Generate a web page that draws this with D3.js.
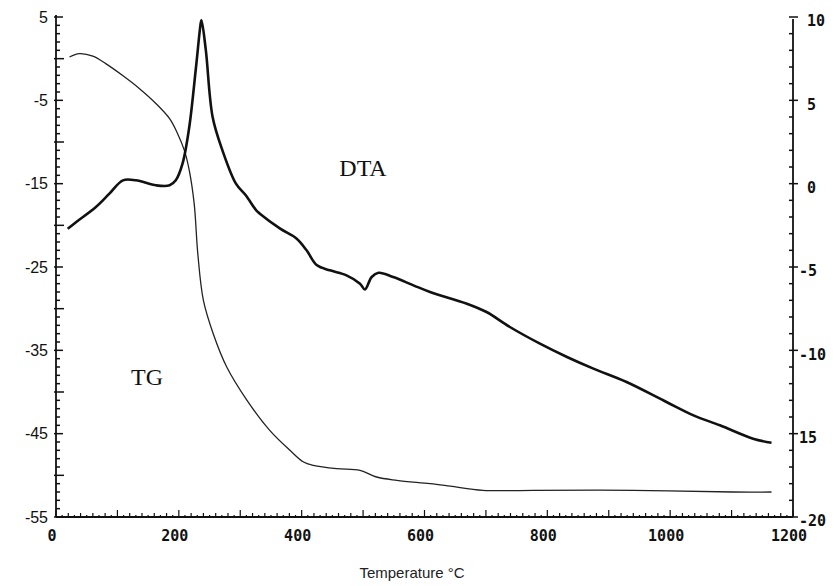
<!DOCTYPE html>
<html>
<head>
<meta charset="utf-8">
<script src="https://cdn.jsdelivr.net/npm/d3@7"></script>
<style>
  body { margin: 0; background: #fff; }
  svg { display: block; }
</style>
</head>
<body>
<div class="thermo-chart"></div>
<script>
// TG curve (left axis), temperature in °C
var tgTemp = [22, 38, 60, 81, 108, 136, 163, 185, 198, 209, 217, 225, 231, 240, 256, 278, 311, 348, 381, 403, 419, 457, 495, 522, 555, 609, 642, 695, 777, 939, 1102, 1165];
var tgValue = [0.2, 0.6, 0.3, -0.6, -2.0, -3.6, -5.4, -7.2, -9.0, -11.0, -13.4, -17.4, -23.5, -29.0, -33.0, -37.0, -41.0, -44.6, -47.0, -48.4, -48.8, -49.2, -49.4, -50.2, -50.6, -51.0, -51.3, -51.8, -51.8, -51.8, -52.0, -52.0];

// DTA curve (right axis)
var dtaTemp = [19, 33, 65, 87, 109, 130, 163, 185, 195, 206, 217, 228, 236, 237, 244, 255, 271, 293, 309, 326, 332, 365, 392, 408, 425, 446, 473, 495, 503, 514, 525, 549, 582, 609, 669, 701, 739, 788, 832, 875, 929, 994, 1038, 1081, 1135, 1165];
var dtaValue = [-2.7, -2.3, -1.4, -0.6, 0.2, 0.2, -0.1, -0.1, 0.2, 1.2, 3.4, 7.0, 9.7, 9.8, 8.0, 4.0, 2.0, 0.0, -0.7, -1.6, -1.8, -2.7, -3.3, -4.0, -4.9, -5.2, -5.5, -6.0, -6.35, -5.6, -5.35, -5.6, -6.1, -6.5, -7.2, -7.7, -8.6, -9.6, -10.4, -11.1, -11.9, -13.1, -13.9, -14.5, -15.3, -15.55];

var xTicks = [0, 200, 400, 600, 800, 1000, 1200];
var leftTicks = [5, -5, -15, -25, -35, -45, -55];
var rightTicks = [10, 5, 0, -5, -10, -15, -20];
var rightTickLabels = ["10", "5", "0", "-5", "-10", "15", "-20"];

var width = 834,
    height = 586,
    plotLeft = 56,
    plotRight = 793,
    plotTop = 17,
    plotBottom = 517;

var svg = d3.select(".thermo-chart").append("svg")
    .attr("width", width)
    .attr("height", height);

var x = d3.scaleLinear().domain([0, 1200]).range([plotLeft, plotRight]);
var yLeft = d3.scaleLinear().domain([-55, 5]).range([plotBottom, plotTop]);
var yRight = d3.scaleLinear().domain([-20, 10]).range([plotBottom, plotTop]);

var plotterFont = "'DejaVu Sans Mono', monospace";

// left axis: ticks every unit pointing inward
var leftAxis = svg.append("g").attr("transform", "translate(" + plotLeft + ",0)");
leftAxis.append("line")
    .attr("y1", plotTop - 2).attr("y2", plotBottom)
    .attr("stroke", "#111").attr("stroke-width", 1.8);
leftAxis.selectAll(".tk")
    .data(d3.range(-55, 6, 1))
    .enter().append("line")
    .attr("class", "tk")
    .attr("x1", function(d) { return (d + 55) % 5 === 0 ? -2 : 0; })
    .attr("x2", function(d) { return (d + 55) % 10 === 5 ? 8 : ((d + 55) % 10 === 0 ? 7 : 4); })
    .attr("y1", function(d) { return yLeft(d); })
    .attr("y2", function(d) { return yLeft(d); })
    .attr("stroke", "#111").attr("stroke-width", 1.5);
leftAxis.selectAll(".lbl")
    .data(leftTicks)
    .enter().append("text")
    .attr("class", "lbl")
    .attr("x", -8)
    .attr("y", function(d) { return yLeft(d); })
    .attr("dy", "0.36em")
    .attr("text-anchor", "end")
    .style("font-family", "'Liberation Sans', Arial, sans-serif")
    .style("font-size", "16px")
    .attr("fill", "#111")
    .text(function(d) { return d; });

// right axis
var rightAxis = svg.append("g").attr("transform", "translate(" + plotRight + ",0)");
rightAxis.append("line")
    .attr("y1", plotTop + 2).attr("y2", plotBottom)
    .attr("stroke", "#111").attr("stroke-width", 1.8);
rightAxis.selectAll(".tk")
    .data(d3.range(-20, 11, 1))
    .enter().append("line")
    .attr("class", "tk")
    .attr("x1", -4)
    .attr("x2", function(d) { return d % 5 === 0 ? 5 : 0; })
    .attr("y1", function(d) { return yRight(d); })
    .attr("y2", function(d) { return yRight(d); })
    .attr("stroke", "#111").attr("stroke-width", 1.5);
rightAxis.selectAll(".lbl")
    .data(rightTicks)
    .enter().append("text")
    .attr("class", "lbl")
    .attr("x", function(d) { return d < 0 ? 6 : 14; })
    .attr("y", function(d) { return yRight(d) + 4; })
    .attr("dy", "0.36em")
    .style("font-family", plotterFont)
    .style("font-size", "15px")
    .style("font-weight", "bold")
    .attr("fill", "#111")
    .text(function(d, i) { return rightTickLabels[i]; });

// bottom axis
var bottomAxis = svg.append("g").attr("transform", "translate(0," + plotBottom + ")");
bottomAxis.append("line")
    .attr("x1", plotLeft).attr("x2", plotRight)
    .attr("stroke", "#111").attr("stroke-width", 1.8);
bottomAxis.selectAll(".tk")
    .data(d3.range(0, 1201, 10))
    .enter().append("line")
    .attr("class", "tk")
    .attr("x1", function(d) { return x(d); })
    .attr("x2", function(d) { return x(d); })
    .attr("y1", 0)
    .attr("y2", function(d) { return d % 100 === 0 ? -7 : (d % 20 === 0 ? -4 : -2); })
    .attr("stroke", "#111").attr("stroke-width", 1.2);
bottomAxis.selectAll(".lbl")
    .data(xTicks)
    .enter().append("text")
    .attr("class", "lbl")
    .attr("x", function(d) { return x(d) - 4; })
    .attr("y", 24)
    .attr("text-anchor", "middle")
    .style("font-family", plotterFont)
    .style("font-size", "15px")
    .style("font-weight", "bold")
    .attr("fill", "#111")
    .text(function(d) { return d; });

svg.append("text")
    .attr("x", 412)
    .attr("y", 578)
    .attr("text-anchor", "middle")
    .style("font-family", "'Liberation Sans', Arial, sans-serif")
    .style("font-size", "15px")
    .attr("fill", "#222")
    .text("Temperature °C");

// curves
var tgLine = d3.line()
    .x(function(d, i) { return x(tgTemp[i]); })
    .y(function(d) { return yLeft(d); })
    .curve(d3.curveCatmullRom.alpha(0.5));

var dtaLine = d3.line()
    .x(function(d, i) { return x(dtaTemp[i]); })
    .y(function(d) { return yRight(d); })
    .curve(d3.curveCatmullRom.alpha(0.5));

svg.append("path")
    .attr("d", tgLine(tgValue))
    .attr("fill", "none")
    .attr("stroke", "#222")
    .attr("stroke-width", 1.3);

svg.append("path")
    .attr("d", dtaLine(dtaValue))
    .attr("fill", "none")
    .attr("stroke", "#111")
    .attr("stroke-width", 2.6)
    .attr("stroke-linejoin", "round");

svg.append("text")
    .attr("x", 363).attr("y", 176)
    .attr("text-anchor", "middle")
    .style("font-family", "'Liberation Serif', 'Times New Roman', serif")
    .style("font-size", "24px")
    .attr("fill", "#111")
    .text("DTA");

svg.append("text")
    .attr("x", 147).attr("y", 385)
    .attr("text-anchor", "middle")
    .style("font-family", "'Liberation Serif', 'Times New Roman', serif")
    .style("font-size", "24px")
    .attr("fill", "#111")
    .text("TG");
</script>
</body>
</html>
